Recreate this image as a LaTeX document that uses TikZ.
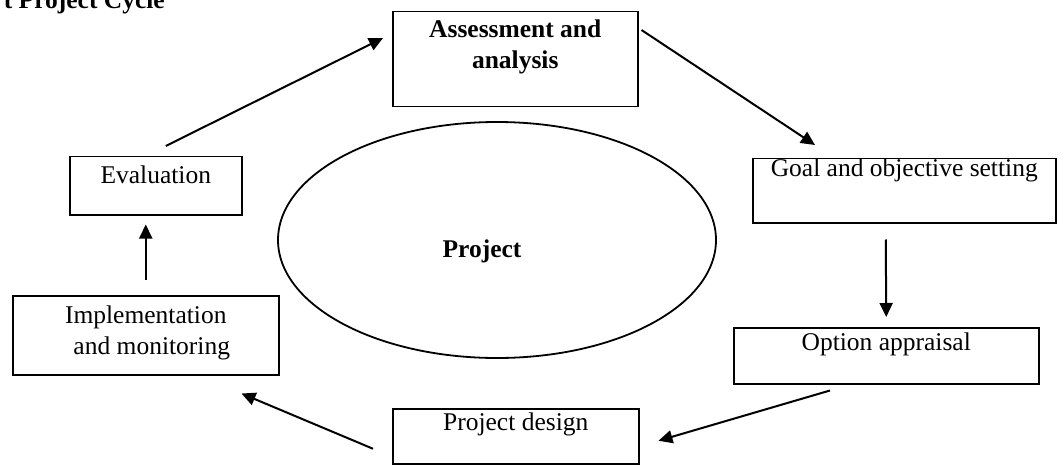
\documentclass[tikz,border=0pt]{standalone}
\usepackage{fontspec}
\setmainfont{Liberation Serif}
\usetikzlibrary{arrows.meta,shapes.geometric,calc}
\newcommand{\bxt}[4]{\parbox[t][#2pt][t]{#1pt}{\centering\rule{0pt}{#3pt}#4}}
\begin{document}
\begin{tikzpicture}[x=1pt,y=-1pt,
  txt/.style={font=\fontsize{25.5}{31}\selectfont, inner sep=0pt},
  boldtxt/.style={font=\fontsize{25.5}{31}\selectfont\bfseries, inner sep=0pt},
  boxnode/.style={draw, line width=1.5pt, anchor=north west},
  arr/.style={line width=2pt, -{Triangle[length=14pt,width=13pt]}}]
\useasboundingbox (0,0) rectangle (1064,465);
\node[boldtxt, anchor=base east] (title) at (165,9) {t Project Cycle};
\node[boldtxt, boxnode] (assess) at (392,11) {\bxt{245}{95}{26}{Assessment and\\analysis}};
\node[txt, boxnode] (goal) at (752,158) {\bxt{303}{64}{18}{Goal and objective setting}};
\node[txt, boxnode] (option) at (733,327) {\bxt{305}{56}{23}{Option appraisal}};
\node[txt, boxnode] (design) at (392,408) {\bxt{246}{55}{22}{Project design}};
\node[txt, boxnode] (impl) at (12,295) {\bxt{266}{79}{28}{Implementation\\\hspace*{12pt}and monitoring}};
\node[txt, boxnode] (eval) at (69,156) {\bxt{172}{58}{27}{Evaluation}};
\node[draw, ellipse, line width=1.8pt, minimum width=438pt, minimum height=236pt, inner sep=0pt] (cycle) at (497,240) {};
\node[boldtxt, anchor=base] (projtext) at (482,257) {Project};
\draw[arr] ($(eval.north)+(10,-10)$) -- ($(assess.north west)+(-9,27)$);
\draw[arr] ($(assess.north east)+(3,19)$) -- ($(goal.north west)+(63,-13)$);
\draw[arr] ($(goal.south)+(-18.5,16)$) -- ($(option.north)+(0,-10)$);
\draw[arr] ($(option.south west)+(97,6)$) -- ($(design.east)+(19,4.5)$);
\draw[arr] ($(design.west)+(-19,12.5)$) -- ($(impl.south east)+(-38,18)$);
\draw[arr] ($(impl.north)+(0,-15)$) -- ($(eval.south)+(-10,9)$);
\end{tikzpicture}
\end{document}
